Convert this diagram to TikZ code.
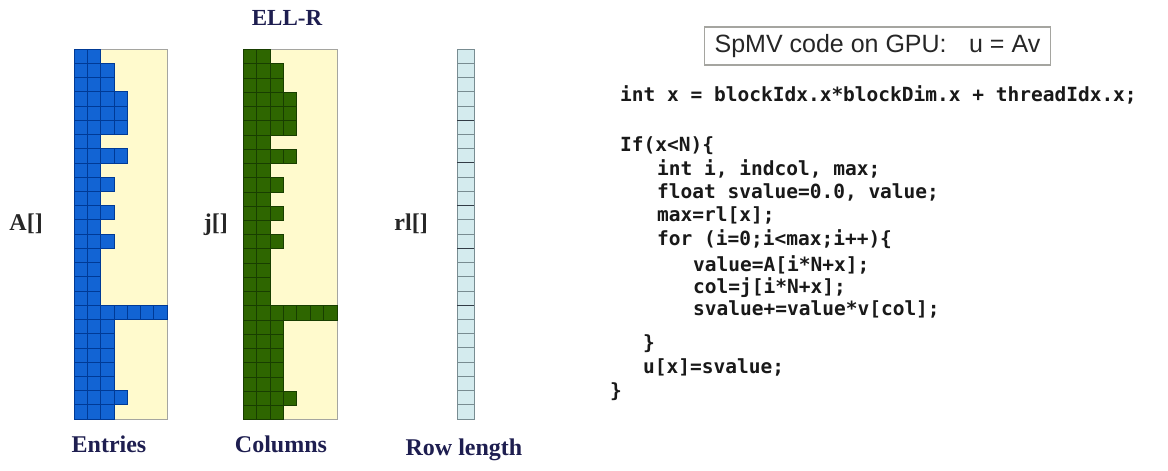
\documentclass[tikz,border=0pt]{standalone}
\usepackage{fontspec}
\setmainfont{Liberation Serif}
\newfontfamily\sansf{Liberation Sans}
\newfontfamily\codef{DejaVu Sans Mono}
\definecolor{yellowbg}{RGB}{255,250,205}
\definecolor{framegray}{RGB}{165,165,160}
\definecolor{bluefill}{RGB}{18,100,212}
\definecolor{blueline}{RGB}{0,58,150}
\definecolor{greenfill}{RGB}{46,102,0}
\definecolor{greenline}{RGB}{24,62,0}
\definecolor{rlfill}{RGB}{212,235,238}
\definecolor{rlline}{RGB}{120,140,145}
\definecolor{rldark}{RGB}{50,60,70}
\definecolor{navy}{RGB}{30,30,80}
\definecolor{codecol}{RGB}{25,25,25}
\tikzset{
  frame/.style={draw=framegray, line width=0.9pt, fill=yellowbg},
  bluecell/.style={fill=bluefill, draw=blueline, line width=0.6pt},
  greencell/.style={fill=greenfill, draw=greenline, line width=0.6pt},
  arrlabel/.style={font=\fontsize{24}{24}\selectfont\bfseries, text=black!85, inner sep=0pt, anchor=base east},
  caption/.style={font=\fontsize{24}{24}\selectfont\bfseries, text=navy, inner sep=0pt, anchor=base},
  codeline/.style={font=\codef\bfseries\fontsize{19.5}{20}\selectfont, text=codecol, inner sep=0pt, anchor=base west},
  titlebox/.style={draw=framegray, line width=1.2pt, fill=white, font=\sansf\fontsize{25}{25}\selectfont, text=black!85, inner xsep=10pt, minimum height=38pt, anchor=west}
}
\begin{document}
\begin{tikzpicture}[x=1pt,y=-1pt]
\useasboundingbox (0,0) rectangle (1168,471);
\fill[white] (0,0) rectangle (1168,471);
\def\rowprof{2,3,3,4,4,4,2,4,2,3,2,3,2,3,2,2,2,2,7,3,3,3,3,3,4,3}
% A[] entries
\draw[frame] (74,49) rectangle (167,419);
\foreach \n [count=\r from 0] in \rowprof {
  \foreach \c in {1,...,\n} {
    \filldraw[bluecell] ({74+(\c-1)*13.286},{49+\r*14.231}) rectangle ++(13.286,14.231);
  }
}
% j[] columns
\draw[frame] (243,49.5) rectangle (337,419.5);
\foreach \n [count=\r from 0] in \rowprof {
  \foreach \c in {1,...,\n} {
    \filldraw[greencell] ({243+(\c-1)*13.429},{49.5+\r*14.231}) rectangle ++(13.429,14.231);
  }
}
% rl[] row length
\draw[draw=rlline, fill=rlfill, line width=0.8pt] (457,49) rectangle (474,419);
\foreach \i in {1,...,25} {
  \draw[rlline, line width=0.8pt] (457,{49+\i*14.231}) -- (474,{49+\i*14.231});
}
\foreach \i in {5,8,11,14,18} {
  \draw[rldark, line width=1pt] (457,{49+\i*14.231}) -- (474,{49+\i*14.231});
}
% labels
\node[arrlabel] (lA) at (43,230) {A[]};
\node[arrlabel] (lj) at (228,230) {j[]};
\node[arrlabel] (lrl) at (428,230) {rl[]};
\node[caption, font=\fontsize{23}{23}\selectfont\bfseries] (ell) at (287,25) {ELL-R};
\node[caption] (ent) at (109,452) {Entries};
\node[caption] (cols) at (281,452) {Columns};
\node[caption] (rowl) at (464,455) {Row length};
% code
\node[titlebox] (title) at (704,46) {SpMV code on GPU:\hspace{0.9em}u = Av};
\node[codeline] (c0) at (620,101) {int x = blockIdx.x*blockDim.x + threadIdx.x;};
\node[codeline] (c1) at (620,151) {If(x<N)\{};
\node[codeline] (c2) at (657,175) {int i, indcol, max;};
\node[codeline] (c3) at (657,198) {float svalue=0.0, value;};
\node[codeline] (c4) at (657,221) {max=rl[x];};
\node[codeline] (c5) at (657,245) {for (i=0;i<max;i++)\{};
\node[codeline] (c6) at (693,271) {value=A[i*N+x];};
\node[codeline] (c7) at (693,293) {col=j[i*N+x];};
\node[codeline] (c8) at (693,315) {svalue+=value*v[col];};
\node[codeline] (c9) at (643,349) {\}};
\node[codeline] (c10) at (643,373) {u[x]=svalue;};
\node[codeline] (c11) at (610,397) {\}};
\end{tikzpicture}
\end{document}
